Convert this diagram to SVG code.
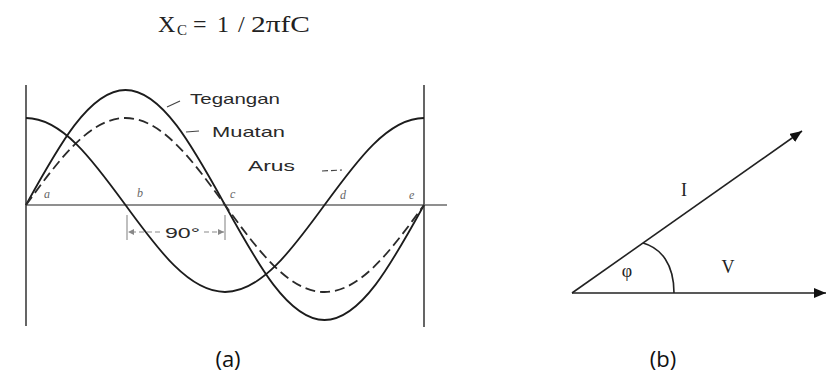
<svg xmlns="http://www.w3.org/2000/svg" width="826" height="376" viewBox="0 0 826 376">
<defs>
<style>
.curve{fill:none;stroke:#1c1c1c;stroke-width:1.8}
.dash{fill:none;stroke:#2a2a2a;stroke-width:1.8;stroke-dasharray:10 5}
.axis{fill:none;stroke:#6a6a6a;stroke-width:1.3}
.frame{fill:none;stroke:#555;stroke-width:1.8}
.lbl{font-family:"Liberation Sans",Arial,sans-serif;fill:#2a2a2a;font-size:15px}
.pt{font-family:"Liberation Serif",serif;font-style:italic;fill:#666;font-size:12px}
.ser{font-family:"Liberation Serif","Times New Roman",serif;fill:#222}
.cap{font-family:"Open Sans","Noto Sans",sans-serif;fill:#111;font-size:22px;text-anchor:middle}
.lead{fill:none;stroke:#444;stroke-width:1.2}
.dim{fill:none;stroke:#8a8a8a;stroke-width:1.1}
.vec{fill:none;stroke:#222;stroke-width:1.6}
</style>
<marker id="ah" viewBox="0 0 12 10" refX="12" refY="5" markerWidth="12" markerHeight="10" orient="auto" markerUnits="userSpaceOnUse"><path d="M0,0 L12,5 L0,10 z" fill="#111"/></marker>
<marker id="sa" viewBox="0 0 6 6" refX="6" refY="3" markerWidth="6" markerHeight="6" orient="auto" markerUnits="userSpaceOnUse"><path d="M0,0 L6,3 L0,6 z" fill="#888"/></marker>
</defs>
<rect width="826" height="376" fill="#fff"/>

<g id="title">
<text class="ser" font-size="24" y="32"><tspan x="158">X</tspan><tspan x="177" y="35" font-size="15">C</tspan><tspan x="193" y="32">=</tspan><tspan x="217">1</tspan><tspan x="238">/</tspan><tspan x="251" textLength="59" lengthAdjust="spacingAndGlyphs">2πfC</tspan></text>
</g>

<g id="waveform">
<g id="frame">
<line class="frame" x1="26" y1="85" x2="26" y2="326"/>
<line class="frame" x1="424" y1="85" x2="424" y2="327"/>
<line class="axis" x1="26" y1="205" x2="447" y2="205"/>
</g>
<g id="tegangan">
<path class="curve" d="M26,205 C58.45,146.1 89.49,90 125.5,90 C161.51,90 192.55,146.1 225,205 C257.45,263.9 288.49,320 324.5,320 C360.51,320 391.55,263.9 424,205"/>
<line class="lead" x1="167" y1="107" x2="180" y2="101"/>
<text class="lbl" x="190" y="104" textLength="90" lengthAdjust="spacingAndGlyphs">Tegangan</text>
</g>
<g id="muatan">
<path class="dash" d="M26,205 C58.45,160.43 89.49,118 125.5,118 C161.51,118 192.55,160.43 225,205 C257.45,249.57 288.49,292 324.5,292 C360.51,292 391.55,249.57 424,205"/>
<line class="lead" x1="186" y1="132" x2="199" y2="131"/>
<text class="lbl" x="212" y="137" textLength="73" lengthAdjust="spacingAndGlyphs">Muatan</text>
</g>
<g id="arus">
<path class="curve" d="M26,118 C62.01,118 93.05,160.43 125.5,205 C157.95,249.57 188.99,292 225,292 C261.01,292 292.05,249.57 324.5,205 C356.95,160.43 387.99,118 424,118"/>
<line class="lead" x1="322" y1="171" x2="342" y2="170" stroke-dasharray="6 3"/>
<text class="lbl" x="248" y="171" textLength="47" lengthAdjust="spacingAndGlyphs">Arus</text>
</g>
<g id="points">
<text class="pt" x="44" y="198">a</text>
<text class="pt" x="137" y="197">b</text>
<text class="pt" x="230" y="198">c</text>
<text class="pt" x="340" y="199">d</text>
<text class="pt" x="409" y="199">e</text>
</g>
<g id="dimension">
<line class="dim" x1="127" y1="215" x2="127" y2="240"/>
<line class="dim" x1="225" y1="215" x2="225" y2="240"/>
<line class="dim" x1="160" y1="232" x2="128" y2="232" stroke-dasharray="5 3" marker-end="url(#sa)"/>
<line class="dim" x1="204" y1="232" x2="224" y2="232" stroke-dasharray="5 3" marker-end="url(#sa)"/>
<text class="lbl" x="165" y="238" font-size="15" fill="#555" textLength="35" lengthAdjust="spacingAndGlyphs">90°</text>
</g>
</g>

<g id="phasor">
<g id="connectors">
<line id="vec-I" class="vec" x1="572" y1="293" x2="802" y2="131" marker-end="url(#ah)"/>
<line id="vec-V" class="vec" x1="572" y1="293" x2="826" y2="293" marker-end="url(#ah)"/>
<path id="angle-arc" class="vec" d="M643,243 C661,248 674,264 674,293"/>
</g>
<text class="ser" x="684" y="196" font-size="18" text-anchor="middle">I</text>
<text class="ser" x="627" y="277" font-size="18" text-anchor="middle">φ</text>
<text class="ser" x="728" y="273" font-size="18" text-anchor="middle">V</text>
</g>

<g id="captions">
<text class="cap" x="228" y="367">(a)</text>
<text class="cap" x="663" y="367">(b)</text>
</g>
</svg>
